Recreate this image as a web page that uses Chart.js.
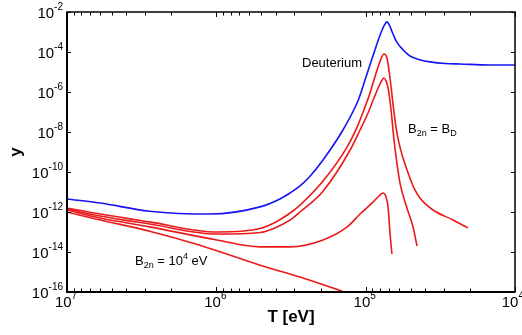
<!DOCTYPE html>
<html>
<head>
<meta charset="utf-8">
<script src="https://cdn.jsdelivr.net/npm/chart.js@4.4.0/dist/chart.umd.min.js"></script>
<style>
  html, body { margin: 0; padding: 0; background: #fff; }
  #chart { display: block; }
</style>
</head>
<body>
<canvas id="chart" width="522" height="335"></canvas>
<script>
// T [eV] and y for each curve
const deutT = [1e7, 6.0e6, 2.8e6, 1.1e6, 5.1e5, 3.75e5, 3.21e5, 2.75e5, 2.32e5, 1.93e5, 1.42e5, 1.12e5, 9.95e4, 8.9e4, 8.0e4, 7.5e4, 7.2e4, 6.9e4, 6.6e4, 6.2e4, 5.6e4, 5.05e4, 4.3e4, 3.7e4, 2.94e4, 2.33e4, 1.47e4, 1e4];
const deutY = [4.5e-12, 2.8e-12, 1.1e-12, 7.9e-13, 1.8e-12, 4.5e-12, 8.9e-12, 2.0e-11, 7.1e-11, 4.0e-10, 1.26e-8, 4.0e-7, 5.6e-6, 7.1e-5, 7.1e-4, 2.2e-3, 3.2e-3, 2.0e-3, 8.9e-4, 3.2e-4, 1.26e-4, 6.3e-5, 4.0e-5, 3.2e-5, 2.66e-5, 2.5e-5, 2.24e-5, 2.24e-5];

const red1T = [1e7, 6.0e6, 2.8e6, 9.9e5, 5.1e5, 4.05e5, 3.2e5, 2.75e5, 1.93e5, 1.33e5, 1.14e5, 1.04e5, 9.5e4, 8.8e4, 8.26e4, 7.9e4, 7.54e4, 7.2e4, 6.87e4, 6.56e4, 6.27e4, 5.98e4, 5.62e4, 5.2e4, 4.75e4, 4.33e4, 3.54e4, 2.6e4, 2.07e4];
const red1Y = [1.6e-12, 7.9e-13, 3.2e-13, 1.0e-13, 1.5e-13, 3.0e-13, 8.9e-13, 2.2e-12, 3.5e-11, 1.8e-9, 1.8e-8, 1.0e-7, 6.3e-7, 4.0e-6, 1.8e-5, 4.5e-5, 7.9e-5, 5.0e-5, 5.0e-6, 2.5e-7, 1.8e-8, 2.8e-9, 5.0e-10, 8.9e-11, 1.6e-11, 5.0e-12, 1.26e-12, 4.0e-13, 1.6e-13];

const red2T = [1e7, 6.0e6, 2.8e6, 9.9e5, 5.1e5, 4.05e5, 3.2e5, 2.75e5, 1.93e5, 1.27e5, 1.09e5, 9.64e4, 8.8e4, 8.14e4, 7.76e4, 7.54e4, 7.3e4, 7.08e4, 6.76e4, 6.46e4, 5.89e4, 5.29e4, 4.82e4, 4.53e4];
const red2Y = [1.4e-12, 6.3e-13, 2.5e-13, 7.9e-14, 9.4e-14, 1.6e-13, 4.0e-13, 1.0e-12, 1.1e-11, 1.26e-9, 1.26e-8, 8.9e-8, 5.0e-7, 2.0e-6, 4.0e-6, 5.0e-6, 3.5e-6, 1.6e-6, 1.26e-7, 4.0e-9, 2.8e-11, 1.6e-12, 1.8e-13, 2.0e-14];

const red3T = [1e7, 6.0e6, 2.8e6, 9.9e5, 5.1e5, 3.2e5, 1.93e5, 1.33e5, 1.09e5, 8.9e4, 8.0e4, 7.66e4, 7.3e4, 7.08e4, 6.87e4, 6.67e4];
const red3Y = [1.26e-12, 5.0e-13, 1.8e-13, 4.0e-14, 1.8e-14, 1.8e-14, 4.0e-14, 1.8e-13, 7.9e-13, 3.2e-12, 7.1e-12, 8.9e-12, 5.6e-12, 1.8e-12, 8.9e-14, 7.9e-15];

const red4T = [1e7, 6.0e6, 2.8e6, 1.29e6, 5.1e5, 2.75e5, 1.33e5];
const red4Y = [1.0e-12, 4.0e-13, 1.1e-13, 2.2e-14, 2.2e-15, 5.6e-16, 8.9e-17];

// axis ticks
const xTicks = [1e7, 1e6, 1e5, 1e4];
const yTicks = [1e-2, 1e-4, 1e-6, 1e-8, 1e-10, 1e-12, 1e-14, 1e-16];

const FONT = '"Liberation Sans", Arial, Helvetica, sans-serif';
const BLUE = 'rgb(20,20,245)';
const RED = 'rgb(235,25,25)';

function pts(T, Y) {
  return T.map((t, i) => ({ x: t, y: Y[i] }));
}

function serie(label, T, Y, color) {
  return {
    label: label,
    data: pts(T, Y),
    borderColor: color,
    borderWidth: 1.6,
    pointRadius: 0,
    fill: false,
    cubicInterpolationMode: 'monotone'
  };
}

// draws a run of text pieces (normal / sub / sup) starting at x, baseline y
function richText(ctx, parts, x, y) {
  let cx = x;
  parts.forEach(p => {
    ctx.font = p.size + 'px ' + FONT;
    ctx.fillText(p.t, cx, y + (p.dy || 0));
    cx += ctx.measureText(p.t).width;
  });
}

function richWidth(ctx, parts) {
  let w = 0;
  parts.forEach(p => {
    ctx.font = p.size + 'px ' + FONT;
    w += ctx.measureText(p.t).width;
  });
  return w;
}

function powParts(v) {
  const e = Math.round(Math.log10(v));
  return [{ t: '10', size: 15 }, { t: String(e), size: 10, dy: -8 }];
}

const decor = {
  id: 'decor',
  afterDatasetsDraw(chart) {
    const { ctx, chartArea: a, scales } = chart;
    const sx = scales.x, sy = scales.y;
    ctx.save();
    ctx.fillStyle = '#000';
    ctx.strokeStyle = '#000';
    ctx.textAlign = 'left';
    ctx.textBaseline = 'alphabetic';

    // inward tick marks, x axis (major + minor), top and bottom
    ctx.lineWidth = 1;
    for (let d = 1e4; d < 1e7; d *= 10) {
      for (let m = 1; m <= 10; m++) {
        const px = Math.round(sx.getPixelForValue(d * m)) + 0.5;
        const len = (m === 1 || m === 10) ? 5 : 3.5;
        ctx.beginPath();
        ctx.moveTo(px, a.bottom); ctx.lineTo(px, a.bottom - len);
        ctx.moveTo(px, a.top); ctx.lineTo(px, a.top + len);
        ctx.stroke();
      }
    }
    // y ticks, left and right
    yTicks.forEach(v => {
      const py = Math.round(sy.getPixelForValue(v)) + 0.5;
      ctx.beginPath();
      ctx.moveTo(a.left, py); ctx.lineTo(a.left + 4, py);
      ctx.moveTo(a.right, py); ctx.lineTo(a.right - 4, py);
      ctx.stroke();
    });

    // frame
    ctx.lineWidth = 1.5;
    ctx.strokeRect(a.left, a.top, a.right - a.left, a.bottom - a.top);
    ctx.lineWidth = 2;
    ctx.beginPath();
    ctx.moveTo(a.left, a.top); ctx.lineTo(a.left, a.bottom); ctx.lineTo(a.right, a.bottom);
    ctx.stroke();

    // y tick labels
    yTicks.forEach(v => {
      const py = sy.getPixelForValue(v);
      const parts = powParts(v);
      const w = richWidth(ctx, parts);
      richText(ctx, parts, a.left - 4 - w, py + 5.5);
    });
    // x tick labels
    xTicks.forEach(v => {
      const px = sx.getPixelForValue(v);
      const parts = powParts(v);
      const w = richWidth(ctx, parts);
      let x0 = px - w / 2 - 1;
      if (x0 + w > chart.width - 1) x0 = chart.width - 1 - w + 3;
      richText(ctx, parts, x0, a.bottom + 15);
    });

    // axis titles
    ctx.font = 'bold 17px ' + FONT;
    ctx.textAlign = 'center';
    ctx.fillText('T [eV]', 291, 322);
    ctx.save();
    ctx.translate(21, 152);
    ctx.rotate(-Math.PI / 2);
    ctx.fillText('y', 0, 0);
    ctx.restore();

    // curve labels
    ctx.textAlign = 'left';
    ctx.font = '13px ' + FONT;
    ctx.fillText('Deuterium', 302, 67);
    richText(ctx, [
      { t: 'B', size: 13 }, { t: '2n', size: 9, dy: 3 },
      { t: ' = B', size: 13 }, { t: 'D', size: 9, dy: 3 }
    ], 408, 133);
    richText(ctx, [
      { t: 'B', size: 13 }, { t: '2n', size: 9, dy: 3 },
      { t: ' = 10', size: 13 }, { t: '4', size: 9, dy: -6 },
      { t: ' eV', size: 13 }
    ], 135, 265);

    ctx.restore();
  }
};

document.addEventListener('DOMContentLoaded', () => {
  const ctx = document.getElementById('chart').getContext('2d');
  new Chart(ctx, {
    type: 'line',
    data: {
      datasets: [
        serie('Deuterium', deutT, deutY, BLUE),
        serie('B2n = BD', red1T, red1Y, RED),
        serie('red2', red2T, red2Y, RED),
        serie('red3', red3T, red3Y, RED),
        serie('B2n = 1e4 eV', red4T, red4Y, RED)
      ]
    },
    options: {
      responsive: false,
      animation: false,
      layout: { padding: { left: 67, right: 7, top: 12, bottom: 43 } },
      plugins: { legend: { display: false }, tooltip: { enabled: false } },
      scales: {
        x: {
          type: 'logarithmic', min: 1e4, max: 1e7, reverse: true,
          ticks: { display: false }, grid: { display: false }, border: { display: false },
          afterFit: s => { s.height = 0; }
        },
        y: {
          type: 'logarithmic', min: 1e-16, max: 1e-2,
          ticks: { display: false }, grid: { display: false }, border: { display: false },
          afterFit: s => { s.width = 0; }
        }
      }
    },
    plugins: [decor]
  });
});
</script>
</body>
</html>
